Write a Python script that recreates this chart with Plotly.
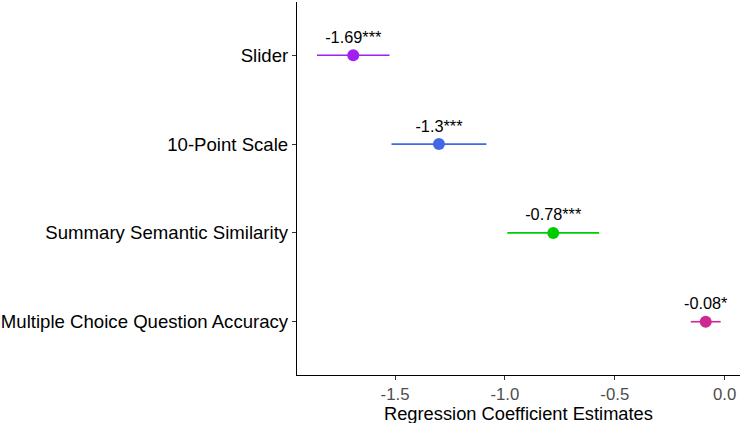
import plotly.graph_objects as go

categories = ["Slider", "10-Point Scale", "Summary Semantic Similarity", "Multiple Choice Question Accuracy"]
estimates = [-1.69, -1.30, -0.78, -0.086]
ci_half = [0.165, 0.216, 0.209, 0.068]
labels = ["-1.69***", "-1.3***", "-0.78***", "-0.08*"]
colors = ["#A020F0", "#4169E1", "#00CD00", "#CD2990"]
x_ticks = [-1.5, -1.0, -0.5, 0.0]
x_tick_text = ["-1.5", "-1.0", "-0.5", "0.0"]
x_title = "Regression Coefficient Estimates"

fig = go.Figure()
for cat, est, ci, lab, col in zip(categories, estimates, ci_half, labels, colors):
    fig.add_trace(go.Scatter(
        x=[est], y=[cat], mode="markers+text",
        marker=dict(color=col, size=12),
        error_x=dict(type="data", array=[ci], color=col, thickness=1.6, width=0),
        text=[lab], textposition="top center",
        textfont=dict(family="Liberation Sans, Arial", size=16.3, color="black"),
        showlegend=False, cliponaxis=False,
    ))

fig.add_annotation(
    text=x_title, xref="paper", yref="paper", x=0.5, y=-0.102,
    xanchor="center", yanchor="middle", showarrow=False, borderpad=0,
    font=dict(family="Liberation Sans, Arial", size=18.3, color="black"),
)

fig.update_layout(
    width=742, height=423,
    margin=dict(l=297, r=2, t=2, b=48),
    paper_bgcolor="white", plot_bgcolor="white",
    font=dict(family="Liberation Sans, Arial", size=16, color="black"),
    xaxis=dict(
        range=[-1.946, 0.07], tickvals=x_ticks, ticktext=x_tick_text,
        showgrid=False, zeroline=False, showline=True, linecolor="black", linewidth=1.2,
        ticks="outside", ticklen=4, tickcolor="#333333",
        tickfont=dict(size=16.8, color="#4D4D4D"),
    ),
    yaxis=dict(
        type="category", categoryorder="array", categoryarray=categories[::-1],
        range=[-0.6, 3.6],
        showgrid=False, zeroline=False, showline=True, linecolor="black", linewidth=1.2,
        ticks="outside", ticklen=4, tickcolor="#333333",
        tickfont=dict(size=18.6, color="black"),
    ),
)

fig.write_html("out.html")
